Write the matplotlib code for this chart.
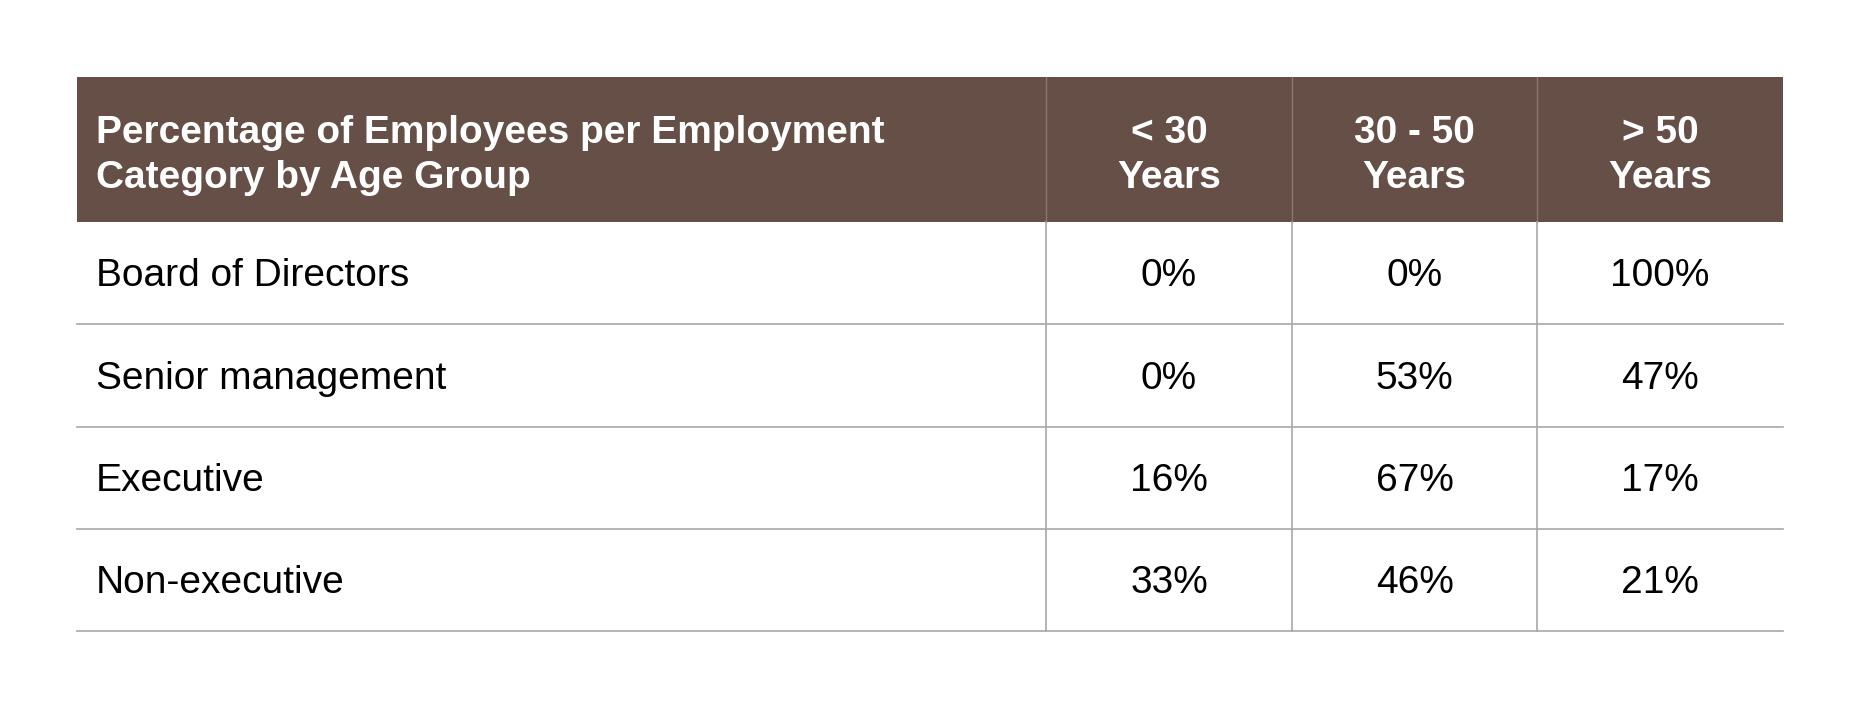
import matplotlib
matplotlib.use("Agg")
import matplotlib.pyplot as plt
from matplotlib.patches import Rectangle

title = "Percentage of Employees per Employment\nCategory by Age Group"
age_groups = ["< 30\nYears", "30 - 50\nYears", "> 50\nYears"]
categories = ["Board of Directors", "Senior management", "Executive", "Non-executive"]
under30 = [0, 0, 16, 33]
mid = [0, 53, 67, 46]
over50 = [100, 47, 17, 21]

W, H = 1568, 598
fig = plt.figure(figsize=(18.6, 7.09), dpi=100)
ax = fig.add_axes([0, 0, 1, 1])
ax.set_xlim(0, W); ax.set_ylim(H, 0); ax.axis("off")
plt.rcParams["font.family"] = "Liberation Sans"

xs = [65, 882, 1089, 1296, 1503]
ys = [65, 187, 273, 360, 446, 532]
hdr = "#654f47"; line = "#a8a8a8"
fs = 28

ax.add_patch(Rectangle((xs[0], ys[0]), xs[-1]-xs[0], ys[1]-ys[0], color=hdr, lw=0))
for x in xs[1:-1]:
    ax.plot([x, x], [ys[0], ys[1]], color="#8a7770", lw=1)
    ax.plot([x, x], [ys[1], ys[-1]], color=line, lw=1.2)
for y in ys[2:]:
    ax.plot([xs[0], xs[-1]], [y, y], color=line, lw=1.2)

ymid = (ys[0]+ys[1])/2 + 5
ax.text(xs[0]+16, ymid, title, color="white", fontweight="bold", fontsize=fs,
        va="center", ha="left", linespacing=1.3)
for i, g in enumerate(age_groups):
    ax.text((xs[i+1]+xs[i+2])/2, ymid, g, color="white", fontweight="bold", fontsize=fs,
            va="center", ha="center", linespacing=1.3)

cols = [under30, mid, over50]
for r, cat in enumerate(categories):
    yc = (ys[r+1]+ys[r+2])/2 + 3
    ax.text(xs[0]+16, yc, cat, fontsize=fs, va="center", ha="left", color="black")
    for c in range(3):
        ax.text((xs[c+1]+xs[c+2])/2, yc, f"{cols[c][r]}%", fontsize=fs,
                va="center", ha="center", color="black")

fig.savefig("out.png", dpi=100, facecolor="white")
